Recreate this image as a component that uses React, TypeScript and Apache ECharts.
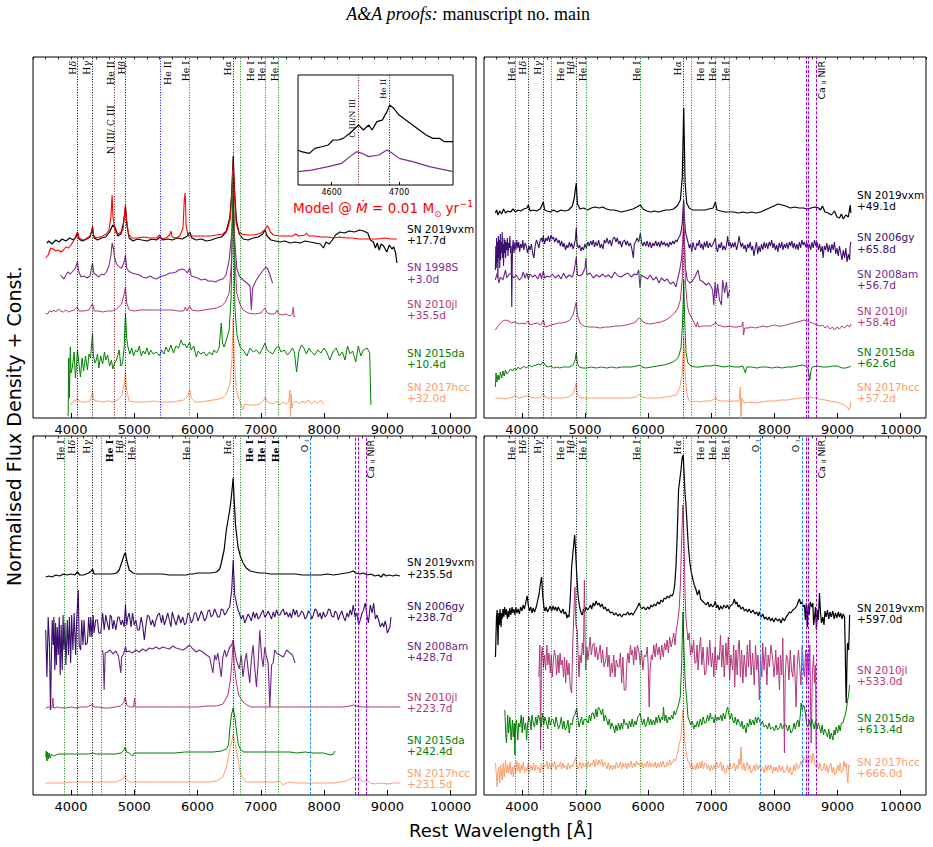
import React, { useEffect, useRef } from 'react';
import * as echarts from 'echarts';

// ---------- axes ----------
const WAVE_MIN = 3400;
const WAVE_MAX = 10400;
const MAJOR_TICKS = [4000, 5000, 6000, 7000, 8000, 9000, 10000];
const INSET_MIN = 4550;
const INSET_MAX = 4780;
const INSET_TICKS = [4600, 4700];

// ---------- colours ----------
const C_VXM = '#000000';
const C_MODEL = '#ff0000';
const C_98S = '#7d2e8e';
const C_GY = '#3b0f70';
const C_AM = '#71258a';
const C_JL = '#b5367a';
const C_DA = '#008000';
const C_HCC = '#fd9c6c';

// ---------- spectra: [rest wavelength (Å), normalised flux + offset] ----------
// Upper-left panel
const TL_2019VXM = [[3620,175],[3650,177],[3700,174],[3760,178],[3810,176],[3860,179],[3920,177],[3980,180],[4040,178],[4080,181],[4102,185],[4125,179],[4180,177],[4250,179],[4300,181],[4340,190],[4365,180],[4420,178],[4480,180],[4550,181],[4610,186],[4660,193],[4700,190],[4740,182],[4790,184],[4830,195],[4861,211],[4885,192],[4920,180],[4980,177],[5050,179],[5120,178],[5200,177],[5280,179],[5350,178],[5411,181],[5450,178],[5530,179],[5600,178],[5680,180],[5760,179],[5840,182],[5876,186],[5910,180],[5980,178],[6060,179],[6140,177],[6220,178],[6300,180],[6380,181],[6450,186],[6510,200],[6540,225],[6563,262],[6585,228],[6615,197],[6660,184],[6720,179],[6800,178],[6880,180],[6960,181],[7030,184],[7065,188],[7100,182],[7160,178],[7230,177],[7300,176],[7380,177],[7460,175],[7540,176],[7620,175],[7700,177],[7780,176],[7860,175],[7940,174],[7990,170],[8030,176],[8080,174],[8130,178],[8180,183],[8250,186],[8320,185],[8400,187],[8480,186],[8560,188],[8620,187],[8690,185],[8730,178],[8780,176],[8810,170],[8840,175],[8870,168],[8900,174],[8940,172],[8990,166],[9030,173],[9070,169],[9100,171],[9130,165],[9150,155]];
const TL_MODEL = [[3600,160],[3640,163],[3680,170],[3720,169],[3760,167],[3800,168],[3840,166],[3880,168],[3920,171],[3960,170],[4000,173],[4040,177],[4070,181],[4102,186],[4130,180],[4180,178],[4230,179],[4280,181],[4320,184],[4340,192],[4360,182],[4400,180],[4450,181],[4500,182],[4560,184],[4600,188],[4630,200],[4650,223],[4665,200],[4700,186],[4760,184],[4820,188],[4850,205],[4861,213],[4875,200],[4910,184],[4960,180],[5050,180],[5150,181],[5250,180],[5350,180],[5400,183],[5430,179],[5500,180],[5560,183],[5580,187],[5600,181],[5660,180],[5720,182],[5770,190],[5790,218],[5805,225],[5820,192],[5850,182],[5900,182],[6000,182],[6100,182],[6200,182],[6300,183],[6400,184],[6470,188],[6520,200],[6545,230],[6563,255],[6580,228],[6610,195],[6650,186],[6700,184],[6800,183],[6900,183],[7000,185],[7060,188],[7100,192],[7120,191],[7150,186],[7200,183],[7300,182],[7400,182],[7500,182],[7550,184],[7600,182],[7700,183],[7720,185],[7760,182],[7850,182],[7950,181],[8050,181],[8150,180],[8250,181],[8350,180],[8450,180],[8550,179],[8650,179],[8750,179],[8850,179],[8950,180],[9050,179],[9150,179]];
const TL_1998S = [[3835,143],[3860,141],[3890,139],[3920,143],[3950,146],[3990,144],[4030,147],[4070,150],[4102,156],[4125,146],[4160,141],[4200,142],[4260,140],[4300,142],[4340,155],[4360,145],[4400,143],[4440,141],[4480,144],[4520,143],[4560,146],[4600,152],[4630,162],[4650,175],[4670,170],[4690,160],[4720,154],[4760,151],[4800,150],[4840,156],[4861,163],[4880,150],[4910,147],[4960,145],[5020,144],[5080,143],[5130,141],[5190,140],[5250,142],[5300,140],[5350,139],[5400,141],[5450,142],[5500,143],[5560,145],[5610,145],[5660,146],[5700,148],[5760,149],[5800,148],[5840,145],[5876,150],[5900,142],[5950,141],[6000,140],[6060,138],[6120,139],[6170,137],[6230,137],[6280,136],[6340,138],[6400,139],[6450,143],[6500,158],[6540,185],[6563,215],[6590,175],[6620,150],[6660,142],[6720,138],[6780,135],[6830,132],[6850,108],[6870,130],[6920,137],[6980,143],[7040,148],[7080,151],[7110,149],[7150,142],[7185,135]];
const TL_2010JL = [[3600,105],[3630,104],[3660,107],[3700,106],[3730,108],[3760,106],[3800,109],[3840,107],[3880,106],[3920,108],[3960,106],[4000,107],[4050,108],[4102,111],[4130,107],[4200,107],[4280,108],[4340,114],[4370,107],[4430,107],[4500,106],[4580,107],[4650,107],[4720,109],[4800,114],[4840,124],[4861,131],[4880,115],[4920,108],[5000,107],[5100,108],[5200,108],[5300,108],[5400,108],[5500,108],[5600,108],[5700,107],[5780,107],[5810,111],[5830,107],[5876,112],[5910,108],[6000,107],[6100,108],[6200,109],[6300,110],[6380,112],[6440,116],[6500,125],[6540,160],[6563,248],[6590,160],[6620,125],[6670,114],[6720,108],[6800,105],[6900,104],[7000,105],[7065,110],[7100,105],[7160,104],[7220,104],[7259,108],[7280,104],[7350,103],[7400,104],[7460,102],[7500,104],[7513,111],[7525,101],[7540,102]];
const TL_2015DA = [[3955,2],[3965,60],[3975,20],[3990,71],[4000,45],[4020,50],[4050,66],[4070,40],[4090,55],[4102,68],[4130,52],[4150,41],[4175,60],[4200,47],[4230,62],[4260,48],[4285,64],[4310,60],[4340,85],[4355,62],[4380,55],[4400,58],[4420,64],[4440,50],[4470,62],[4500,54],[4530,66],[4550,58],[4580,63],[4610,52],[4640,58],[4660,49],[4690,55],[4720,58],[4760,68],[4790,52],[4815,55],[4840,70],[4861,105],[4880,80],[4900,71],[4930,64],[4960,70],[4990,62],[5020,68],[5050,66],[5080,72],[5110,62],[5140,67],[5170,64],[5200,70],[5230,63],[5260,68],[5300,64],[5350,66],[5400,62],[5430,68],[5470,64],[5500,71],[5540,66],[5580,73],[5620,65],[5660,72],[5700,70],[5740,78],[5770,73],[5800,74],[5830,70],[5876,76],[5900,68],[5940,72],[5980,61],[6010,67],[6050,64],[6100,66],[6140,62],[6190,66],[6230,63],[6260,68],[6300,65],[6340,70],[6375,95],[6395,75],[6420,71],[6455,78],[6500,88],[6530,120],[6563,240],[6590,110],[6620,85],[6640,78],[6680,70],[6720,68],[6780,62],[6830,70],[6880,66],[6930,68],[6980,64],[7030,70],[7065,75],[7100,68],[7140,66],[7190,64],[7240,70],[7280,72],[7320,66],[7370,68],[7420,63],[7460,66],[7500,70],[7530,66],[7565,46],[7600,66],[7640,73],[7680,70],[7720,64],[7760,70],[7800,66],[7850,63],[7900,68],[7950,65],[8000,70],[8040,66],[8090,58],[8140,66],[8190,70],[8240,62],[8290,66],[8330,58],[8370,72],[8410,64],[8450,67],[8500,56],[8540,72],[8580,62],[8620,68],[8680,70],[8720,65],[8740,13]];
const TL_2017HCC = [[3995,13],[4020,16],[4050,18],[4080,17],[4102,20],[4130,17],[4180,16],[4240,16],[4300,17],[4340,26],[4360,18],[4420,17],[4500,16],[4580,17],[4660,16],[4740,18],[4800,22],[4840,33],[4861,46],[4880,28],[4920,17],[5000,16],[5100,16],[5200,16],[5300,17],[5400,16],[5500,16],[5600,16],[5700,17],[5780,18],[5850,22],[5876,28],[5900,20],[5960,16],[6050,16],[6150,17],[6250,18],[6330,19],[6400,20],[6455,24],[6510,34],[6545,60],[6563,100],[6580,60],[6610,30],[6640,21],[6680,15],[6710,8],[6750,14],[6820,13],[6900,13],[6980,14],[7040,17],[7068,21],[7100,16],[7150,15],[7200,14],[7260,17],[7300,13],[7350,16],[7400,14],[7440,16],[7460,28],[7470,0],[7480,24],[7490,10],[7510,15],[7560,17],[7600,14],[7650,17],[7700,15],[7750,18],[7800,14],[7850,17],[7900,15],[7950,18],[7990,14]];

// Upper-left inset (He II / C III region)
const INSET_2019VXM = [[4550,31.8],[4555,30.3],[4567,28.8],[4575,33.3],[4585,34.8],[4595,36.4],[4602,40.9],[4610,40.9],[4617,42.4],[4627,47],[4632,50],[4640,54.5],[4647,50],[4655,54.5],[4660,50],[4667,57.6],[4675,59],[4682,66.7],[4686,72.7],[4692,69.7],[4700,63.6],[4710,59],[4720,54.5],[4730,50],[4740,45.5],[4750,42.4],[4760,42.4],[4767,39.4],[4780,39.4]];
const INSET_1998S = [[4550,12.1],[4570,13.6],[4595,16.7],[4615,19.7],[4627,25.8],[4637,30.3],[4645,28.8],[4655,25.8],[4670,27.3],[4682,31.8],[4690,28.8],[4700,24.2],[4720,21.2],[4745,16.7],[4780,12.1]];

// Upper-right panel
const TR_2019VXM = [[3580,205],[3600,208],[3620,203],[3650,207],[3680,204],[3710,209],[3740,205],[3780,207],[3820,206],[3860,209],[3900,206],[3940,208],[3980,207],[4030,209],[4080,210],[4102,213],[4130,207],[4180,208],[4230,207],[4290,209],[4340,216],[4360,208],[4400,207],[4450,206],[4500,208],[4560,206],[4620,208],[4680,207],[4740,208],[4800,212],[4830,220],[4861,235],[4880,214],[4920,209],[4980,210],[5040,208],[5100,210],[5160,211],[5220,210],[5280,211],[5340,209],[5400,208],[5460,208],[5520,207],[5580,206],[5640,207],[5700,208],[5760,209],[5820,211],[5876,213],[5920,209],[5980,207],[6040,206],[6100,207],[6160,206],[6220,207],[6280,208],[6340,208],[6400,209],[6460,212],[6510,218],[6540,240],[6563,310],[6585,235],[6610,215],[6650,210],[6700,208],[6760,208],[6830,208],[6900,208],[6960,209],[7030,210],[7065,216],[7090,208],[7150,207],[7220,206],[7290,206],[7360,206],[7430,205],[7500,206],[7570,205],[7640,206],[7710,205],[7780,206],[7850,208],[7920,210],[7990,212],[8060,214],[8120,213],[8180,212],[8250,210],[8320,211],[8390,210],[8460,210],[8520,209],[8580,210],[8640,211],[8700,210],[8730,208],[8760,212],[8800,206],[8850,205],[8900,203],[8950,207],[8990,201],[9030,200],[9060,204],[9090,199],[9130,203],[9170,201],[9200,213],[9210,205]];
const TR_2006GY = [[3580,148],[3587,172],[3594,150],[3600,180],[3607,155],[3614,176],[3620,140],[3628,182],[3635,160],[3642,178],[3650,150],[3658,184],[3665,158],[3672,176],[3680,165],[3688,186],[3695,160],[3702,174],[3710,152],[3718,180],[3726,165],[3734,178],[3742,160],[3750,176],[3760,168],[3770,180],[3780,162],[3790,175],[3800,170],[3810,182],[3820,165],[3830,172],[3840,111],[3846,150],[3852,170],[3862,178],[3875,165],[3890,176],[3905,168],[3920,178],[3935,170],[3950,176],[3965,166],[3980,174],[4000,170],[4015,178],[4030,168],[4050,175],[4070,172],[4090,165],[4110,172],[4130,168],[4150,174],[4170,165],[4190,160],[4210,172],[4230,178],[4250,175],[4270,170],[4290,178],[4310,180],[4325,176],[4340,182],[4360,174],[4380,180],[4400,177],[4420,182],[4440,176],[4460,183],[4480,179],[4500,181],[4520,176],[4545,180],[4570,175],[4590,178],[4610,172],[4630,177],[4650,171],[4670,175],[4690,168],[4710,173],[4730,170],[4750,176],[4770,171],[4790,175],[4810,169],[4830,173],[4850,180],[4861,190],[4875,174],[4895,170],[4915,173],[4935,167],[4955,171],[4975,168],[5000,174],[5020,170],[5045,176],[5065,172],[5090,177],[5110,173],[5130,178],[5150,171],[5170,176],[5195,172],[5215,178],[5240,170],[5260,174],[5285,169],[5305,178],[5325,175],[5350,180],[5370,174],[5395,178],[5420,172],[5440,179],[5465,181],[5490,176],[5510,180],[5535,174],[5555,177],[5580,171],[5600,176],[5625,178],[5650,173],[5670,177],[5695,172],[5720,175],[5745,168],[5765,160],[5780,174],[5800,176],[5825,180],[5850,176],[5876,185],[5895,176],[5915,172],[5940,176],[5960,172],[5985,177],[6005,171],[6030,176],[6050,170],[6075,175],[6095,172],[6120,177],[6140,172],[6165,176],[6185,171],[6210,177],[6230,173],[6255,176],[6275,172],[6300,175],[6320,171],[6345,176],[6365,173],[6390,177],[6410,174],[6435,178],[6455,176],[6480,180],[6500,182],[6520,186],[6540,195],[6555,212],[6563,218],[6575,200],[6590,186],[6610,181],[6630,176],[6650,170],[6670,174],[6690,166],[6710,176],[6730,170],[6750,168],[6770,175],[6790,172],[6810,178],[6830,170],[6850,174],[6870,168],[6890,176],[6910,171],[6930,177],[6950,170],[6975,175],[7000,171],[7020,173],[7040,176],[7065,180],[7080,170],[7100,166],[7120,174],[7140,170],[7160,176],[7180,168],[7200,172],[7225,168],[7245,175],[7259,182],[7275,172],[7295,176],[7315,170],[7335,175],[7355,171],[7375,176],[7400,168],[7420,174],[7440,182],[7455,176],[7475,171],[7495,175],[7515,169],[7535,173],[7555,166],[7575,174],[7595,170],[7615,176],[7635,168],[7655,172],[7675,162],[7695,170],[7715,176],[7735,164],[7755,172],[7775,166],[7795,174],[7815,168],[7835,176],[7855,170],[7875,175],[7895,169],[7915,176],[7935,172],[7955,178],[7975,170],[7995,175],[8015,168],[8035,173],[8055,166],[8075,175],[8095,170],[8115,176],[8135,168],[8155,174],[8175,170],[8195,175],[8215,169],[8235,176],[8255,172],[8275,177],[8295,170],[8315,175],[8335,169],[8355,174],[8375,168],[8395,176],[8415,170],[8435,178],[8455,173],[8475,176],[8495,171],[8515,175],[8535,169],[8555,174],[8575,168],[8595,176],[8615,170],[8635,178],[8655,172],[8675,176],[8695,168],[8715,174],[8735,166],[8755,172],[8770,160],[8790,172],[8810,168],[8830,175],[8850,166],[8870,173],[8890,165],[8910,174],[8930,168],[8950,176],[8970,164],[8990,170],[9010,162],[9030,172],[9050,165],[9070,158],[9090,168],[9110,160],[9130,170],[9150,156],[9170,164],[9190,158],[9200,172],[9210,176]];
const TR_2008AM = [[3580,138],[3610,145],[3635,135],[3660,141],[3700,138],[3740,148],[3760,140],[3790,143],[3830,145],[3870,140],[3910,143],[3960,138],[4000,141],[4020,146],[4050,140],[4080,145],[4100,139],[4130,144],[4170,141],[4210,143],[4250,139],[4290,145],[4310,139],[4340,147],[4360,140],[4400,142],[4440,141],[4480,144],[4530,140],[4580,143],[4620,139],[4660,145],[4700,140],[4750,143],[4800,141],[4830,148],[4861,161],[4880,143],[4920,142],[4960,144],[5000,150],[5015,160],[5030,143],[5080,145],[5130,140],[5180,143],[5230,141],[5280,144],[5320,141],[5370,143],[5420,140],[5470,146],[5520,142],[5570,141],[5620,143],[5680,145],[5730,141],[5780,144],[5820,143],[5850,148],[5870,130],[5890,143],[5940,141],[5990,139],[6030,143],[6080,138],[6130,141],[6170,135],[6210,140],[6260,137],[6300,139],[6350,134],[6400,136],[6440,131],[6470,140],[6500,148],[6530,160],[6563,190],[6590,150],[6620,138],[6660,135],[6700,137],[6740,141],[6790,148],[6820,138],[6870,136],[6920,133],[6960,135],[7000,131],[7020,128],[7040,113],[7060,136],[7080,120],[7100,134],[7130,118],[7160,113],[7180,138],[7210,125],[7240,136],[7260,120],[7290,128]];
const TR_2010JL = [[3580,88],[3620,92],[3660,95],[3700,97],[3740,98],[3790,97],[3840,95],[3880,96],[3920,95],[3960,94],[4000,95],[4050,94],[4102,97],[4130,93],[4180,94],[4240,95],[4300,93],[4340,98],[4370,91],[4420,92],[4470,93],[4530,94],[4580,95],[4640,95],[4700,96],[4760,98],[4810,103],[4840,110],[4861,116],[4880,103],[4920,95],[4980,92],[5060,91],[5150,91],[5240,90],[5320,91],[5400,91],[5480,92],[5560,92],[5640,93],[5720,94],[5800,96],[5850,100],[5876,100],[5900,97],[5950,95],[6030,94],[6120,95],[6200,96],[6280,98],[6350,101],[6420,105],[6470,110],[6510,118],[6540,140],[6563,215],[6590,135],[6620,112],[6650,105],[6700,99],[6760,91],[6780,96],[6800,91],[6860,92],[6920,92],[6990,92],[7050,94],[7065,96],[7100,93],[7160,92],[7220,91],[7280,92],[7350,91],[7420,91],[7480,92],[7500,96],[7510,83],[7530,90],[7580,90],[7640,91],[7700,90],[7760,91],[7820,92],[7880,91],[7940,92],[8000,93],[8060,92],[8120,92],[8180,93],[8240,94],[8300,95],[8360,96],[8420,97],[8470,98],[8510,97],[8560,96],[8600,95],[8640,94],[8680,93],[8720,92],[8760,93],[8800,90],[8840,92],[8880,89],[8920,91],[8950,88],[8990,91],[9030,89],[9070,92],[9110,90],[9150,93],[9190,91],[9210,94]];
const TR_2015DA = [[3580,31],[3590,45],[3605,36],[3620,43],[3640,38],[3660,46],[3680,40],[3700,47],[3720,42],[3740,48],[3760,44],[3790,46],[3820,49],[3850,47],[3880,50],[3910,48],[3940,51],[3970,49],[4000,50],[4030,52],[4060,50],[4090,51],[4120,53],[4150,51],[4180,52],[4220,53],[4260,54],[4300,53],[4330,56],[4350,55],[4380,52],[4420,51],[4460,52],[4500,50],[4550,51],[4600,50],[4650,51],[4700,51],[4760,51],[4810,53],[4840,57],[4861,65],[4880,54],[4910,51],[4960,50],[5020,50],[5100,51],[5180,50],[5260,51],[5340,50],[5420,51],[5500,50],[5580,51],[5660,51],[5740,51],[5810,52],[5876,53],[5900,51],[5960,50],[6050,51],[6150,52],[6250,53],[6350,55],[6420,57],[6480,61],[6520,70],[6545,95],[6563,138],[6580,95],[6600,65],[6630,55],[6680,52],[6750,51],[6820,51],[6900,52],[6980,52],[7060,53],[7120,52],[7200,51],[7280,52],[7360,51],[7440,51],[7500,52],[7540,45],[7560,51],[7640,51],[7720,50],[7800,51],[7880,51],[7960,50],[8040,51],[8120,50],[8200,51],[8280,51],[8360,52],[8440,53],[8490,52],[8530,50],[8560,38],[8580,48],[8600,51],[8680,52],[8760,51],[8840,51],[8920,52],[9000,52],[9070,50],[9130,50],[9180,51],[9210,52]];
const TR_2017HCC = [[3580,20],[3650,20],[3730,19],[3800,20],[3860,21],[3889,23],[3910,21],[3960,20],[4010,21],[4060,22],[4102,22],[4140,21],[4200,20],[4280,20],[4340,25],[4360,21],[4420,20],[4500,20],[4580,20],[4660,20],[4740,21],[4810,24],[4840,30],[4861,35],[4880,24],[4920,20],[5000,20],[5100,20],[5200,20],[5300,20],[5400,20],[5500,20],[5600,20],[5700,20],[5800,21],[5850,23],[5876,24],[5900,21],[5980,20],[6080,20],[6180,20],[6280,21],[6380,22],[6450,23],[6500,30],[6540,45],[6563,81],[6585,45],[6610,25],[6640,18],[6700,16],[6760,17],[6820,16],[6900,17],[6980,17],[7050,19],[7065,21],[7090,18],[7150,17],[7220,17],[7300,17],[7380,17],[7440,17],[7460,31],[7470,0],[7480,20],[7520,15],[7600,16],[7700,15],[7800,16],[7900,17],[8000,17],[8100,18],[8200,18],[8300,19],[8400,20],[8480,20],[8560,21],[8640,20],[8720,19],[8800,18],[8880,17],[8960,16],[9040,15],[9100,13],[9150,11],[9180,8],[9200,11],[9210,16]];

// Lower-left panel
const BL_2019VXM = [[3600,218],[3650,219],[3700,218],[3760,220],[3820,219],[3880,221],[3940,220],[4000,221],[4060,220],[4102,223],[4140,220],[4200,220],[4280,222],[4320,224],[4340,226],[4365,221],[4420,221],[4500,221],[4580,221],[4660,221],[4720,222],[4762,225],[4815,235],[4845,241],[4862,242],[4880,235],[4920,225],[4980,222],[5050,221],[5150,221],[5250,221],[5350,221],[5450,221],[5550,220],[5650,220],[5750,220],[5820,220],[5876,221],[5930,221],[6000,222],[6100,222],[6200,222],[6300,223],[6350,226],[6375,232],[6420,245],[6455,265],[6490,278],[6520,290],[6545,305],[6563,317],[6575,300],[6600,270],[6640,248],[6680,238],[6720,232],[6770,227],[6830,224],[6900,223],[6980,222],[7060,222],[7150,221],[7250,221],[7350,221],[7450,221],[7550,221],[7650,220],[7750,220],[7850,220],[7950,220],[8050,221],[8150,220],[8250,221],[8350,222],[8420,223],[8460,224],[8500,222],[8560,221],[8620,222],[8680,220],[8740,221],[8800,219],[8860,220],[8900,218],[8940,221],[8980,219],[9030,220],[9090,219],[9130,220],[9200,219]];
const BL_2006GY = [[3600,165],[3620,118],[3640,178],[3660,150],[3677,85],[3690,135],[3704,175],[3720,150],[3730,178],[3745,125],[3757,172],[3770,130],[3783,168],[3800,140],[3815,178],[3830,120],[3845,170],[3862,125],[3875,180],[3890,145],[3905,172],[3920,130],[3942,175],[3960,140],[3975,178],[3995,132],[4010,180],[4030,145],[4050,182],[4074,140],[4090,175],[4116,205],[4130,150],[4153,145],[4170,175],[4190,150],[4206,175],[4230,150],[4259,152],[4280,178],[4300,158],[4312,178],[4330,158],[4350,180],[4365,162],[4390,175],[4418,175],[4440,162],[4471,162],[4500,182],[4525,165],[4550,180],[4580,170],[4603,165],[4620,180],[4640,178],[4660,166],[4680,175],[4709,165],[4740,178],[4762,178],[4790,170],[4815,175],[4840,168],[4861,190],[4880,170],[4900,178],[4920,182],[4950,168],[4973,182],[5000,170],[5026,175],[5050,165],[5079,165],[5110,178],[5132,170],[5159,155],[5185,170],[5210,180],[5238,178],[5265,170],[5290,175],[5320,168],[5344,175],[5370,180],[5397,182],[5430,172],[5449,180],[5475,170],[5500,175],[5530,182],[5555,175],[5580,168],[5600,183],[5630,176],[5661,170],[5700,180],[5735,172],[5767,178],[5795,170],[5820,172],[5850,182],[5873,180],[5900,172],[5926,175],[5950,182],[5978,182],[6005,174],[6030,178],[6060,184],[6084,180],[6110,174],[6140,177],[6165,184],[6190,185],[6215,178],[6243,180],[6270,186],[6296,182],[6320,178],[6349,178],[6375,186],[6402,185],[6430,180],[6455,182],[6480,186],[6508,188],[6540,205],[6563,235],[6587,200],[6614,192],[6640,185],[6660,182],[6690,176],[6719,180],[6745,172],[6770,176],[6800,181],[6825,178],[6850,174],[6880,183],[6905,177],[6931,182],[6960,176],[6984,178],[7010,182],[7036,185],[7060,178],[7090,180],[7115,184],[7142,180],[7170,176],[7195,183],[7220,178],[7248,185],[7275,180],[7301,180],[7330,184],[7354,186],[7380,180],[7407,183],[7435,178],[7460,182],[7485,177],[7513,186],[7540,180],[7565,185],[7590,178],[7618,180],[7645,184],[7671,182],[7700,176],[7724,178],[7750,184],[7780,182],[7805,176],[7830,180],[7855,186],[7880,185],[7910,178],[7936,182],[7960,176],[7989,183],[8015,178],[8040,180],[8070,186],[8094,185],[8120,179],[8150,178],[8175,184],[8200,182],[8225,175],[8250,180],[8280,184],[8306,178],[8335,174],[8360,182],[8385,178],[8412,185],[8435,180],[8460,190],[8490,178],[8518,182],[8545,170],[8570,175],[8600,182],[8623,185],[8650,192],[8676,180],[8700,172],[8729,190],[8760,182],[8782,192],[8810,176],[8835,180],[8862,175],[8888,168],[8920,172],[8941,168],[8965,174],[8980,170],[9000,162],[9020,165],[9040,168],[9057,178]];
const BL_2008AM = [[4497,145],[4510,140],[4524,105],[4540,142],[4580,143],[4620,145],[4660,141],[4709,144],[4750,139],[4788,122],[4800,138],[4830,141],[4861,148],[4880,143],[4920,144],[4970,142],[5026,145],[5079,143],[5132,146],[5185,144],[5238,147],[5290,146],[5344,148],[5397,146],[5449,148],[5500,147],[5555,146],[5608,149],[5661,147],[5714,146],[5767,145],[5820,147],[5873,150],[5926,146],[5978,143],[6030,145],[6084,143],[6140,140],[6190,138],[6243,122],[6270,140],[6296,135],[6320,142],[6375,118],[6400,138],[6430,145],[6455,138],[6508,148],[6540,150],[6563,155],[6587,145],[6614,135],[6660,126],[6690,140],[6719,118],[6750,135],[6772,142],[6800,125],[6825,112],[6850,135],[6878,150],[6900,130],[6931,108],[6960,135],[6984,165],[7010,140],[7036,128],[7063,148],[7090,138],[7116,132],[7142,88],[7170,130],[7195,132],[7220,145],[7248,142],[7300,140],[7354,138],[7407,145],[7460,142],[7500,140],[7540,132]];
const BL_2010JL = [[3600,87],[3650,88],[3700,87],[3714,97],[3725,87],[3780,88],[3850,87],[3920,87],[4000,88],[4080,87],[4150,88],[4250,88],[4320,90],[4339,91],[4360,88],[4430,88],[4520,87],[4600,87],[4700,88],[4780,89],[4830,92],[4857,98],[4880,90],[4930,88],[4990,88],[5005,97],[5015,88],[5079,88],[5200,88],[5344,88],[5500,88],[5650,88],[5800,88],[5900,88],[6000,88],[6150,89],[6300,89],[6400,91],[6480,100],[6520,115],[6545,135],[6563,155],[6580,130],[6614,112],[6650,100],[6719,93],[6780,90],[6850,88],[6950,88],[7100,88],[7250,88],[7400,88],[7550,88],[7700,88],[7850,88],[8000,88],[8150,88],[8300,88],[8412,89],[8470,90],[8520,89],[8600,88],[8750,88],[8900,88],[9050,88],[9205,88]];
const BL_2015DA = [[3600,38],[3610,44],[3620,34],[3630,43],[3640,36],[3655,42],[3670,37],[3690,41],[3720,39],[3760,40],[3800,41],[3860,41],[3920,41],[3980,41],[4050,41],[4120,41],[4200,41],[4280,41],[4339,42],[4400,41],[4500,41],[4600,41],[4700,41],[4790,42],[4830,44],[4857,48],[4880,43],[4920,42],[4973,39],[5000,42],[5079,42],[5200,42],[5344,42],[5500,42],[5650,42],[5800,43],[5876,43],[5950,43],[6100,43],[6250,43],[6380,44],[6455,46],[6490,50],[6508,65],[6535,80],[6563,87],[6590,78],[6614,65],[6640,52],[6666,47],[6720,43],[6800,43],[6900,43],[7036,43],[7150,43],[7300,43],[7460,43],[7565,42],[7700,43],[7830,42],[7990,42],[8094,40],[8150,41],[8170,44]];
const BL_2017HCC = [[3600,12],[3700,12],[3800,12],[3900,12],[4000,13],[4100,13],[4200,13],[4300,13],[4400,13],[4500,13],[4600,13],[4700,13],[4800,15],[4830,17],[4857,20],[4880,15],[4930,13],[5000,13],[5100,13],[5200,13],[5300,13],[5400,13],[5500,13],[5600,13],[5700,13],[5800,13],[5900,13],[6000,13],[6100,13],[6200,13],[6300,14],[6350,16],[6400,18],[6455,28],[6508,45],[6545,55],[6561,60],[6580,55],[6614,45],[6640,35],[6666,25],[6700,18],[6772,13],[6850,13],[6950,13],[7036,13],[7150,13],[7250,13],[7300,14],[7354,10],[7400,12],[7460,13],[7550,12],[7650,12],[7750,12],[7850,12],[7950,12],[8050,12],[8150,12],[8250,13],[8350,14],[8412,16],[8460,18],[8491,17],[8540,18],[8580,15],[8623,13],[8676,15],[8729,12],[8800,11],[8900,12],[9000,11],[9100,12],[9205,12]];

// Lower-right panel
const BR_2019VXM = [[3582,138],[3590,160],[3598,178],[3609,185],[3616,165],[3622,150],[3630,176],[3635,182],[3645,170],[3655,186],[3661,180],[3670,168],[3680,182],[3688,176],[3700,186],[3715,178],[3725,188],[3741,180],[3755,186],[3770,176],[3785,184],[3794,178],[3810,187],[3825,180],[3845,188],[3860,182],[3873,186],[3890,180],[3905,188],[3920,182],[3940,186],[3960,181],[3980,188],[4000,184],[4020,190],[4040,186],[4060,192],[4075,197],[4085,199],[4100,190],[4120,184],[4140,188],[4160,182],[4180,187],[4200,183],[4217,186],[4235,190],[4255,196],[4270,200],[4290,210],[4312,218],[4330,200],[4349,188],[4365,184],[4385,188],[4405,183],[4428,186],[4450,189],[4470,184],[4495,189],[4515,185],[4534,188],[4555,184],[4575,188],[4600,185],[4625,182],[4650,186],[4670,181],[4693,183],[4715,177],[4730,180],[4746,178],[4765,195],[4788,228],[4805,240],[4820,250],[4836,260],[4850,245],[4865,225],[4878,210],[4892,198],[4905,192],[4920,186],[4940,182],[4957,180],[4975,186],[4995,183],[5015,188],[5040,185],[5063,187],[5085,190],[5105,186],[5130,192],[5150,189],[5175,194],[5200,190],[5222,192],[5245,188],[5270,191],[5295,186],[5320,188],[5345,184],[5370,186],[5400,182],[5434,183],[5460,180],[5490,182],[5520,179],[5550,181],[5580,178],[5610,181],[5645,180],[5675,183],[5700,180],[5730,182],[5760,180],[5785,183],[5804,185],[5830,188],[5857,192],[5880,188],[5900,186],[5930,188],[5963,185],[5990,188],[6020,186],[6045,190],[6068,188],[6095,191],[6120,189],[6150,193],[6180,191],[6205,195],[6230,193],[6255,197],[6280,196],[6305,199],[6330,197],[6355,200],[6380,199],[6400,202],[6420,210],[6440,228],[6460,260],[6481,305],[6500,315],[6520,325],[6540,338],[6555,340],[6570,320],[6585,300],[6597,292],[6615,272],[6635,250],[6661,232],[6685,222],[6710,215],[6730,210],[6755,206],[6780,200],[6809,205],[6830,196],[6860,194],[6890,192],[6915,190],[6945,193],[6970,188],[6995,191],[7021,188],[7045,190],[7063,194],[7085,187],[7105,190],[7126,185],[7150,189],[7175,186],[7200,190],[7232,187],[7255,190],[7280,186],[7300,189],[7325,190],[7345,192],[7364,196],[7385,191],[7405,193],[7425,188],[7444,190],[7470,186],[7500,188],[7525,184],[7550,186],[7575,183],[7600,186],[7630,182],[7660,185],[7690,181],[7720,183],[7745,179],[7761,183],[7790,178],[7815,181],[7840,176],[7867,178],[7890,175],[7915,178],[7940,174],[7965,177],[7990,173],[8020,177],[8050,174],[8079,176],[8105,172],[8130,177],[8160,174],[8184,178],[8210,180],[8235,183],[8260,182],[8290,185],[8317,186],[8340,188],[8360,190],[8380,194],[8396,196],[8415,191],[8435,193],[8455,188],[8475,190],[8490,175],[8505,192],[8520,168],[8535,190],[8550,180],[8565,193],[8590,188],[8608,192],[8620,170],[8635,178],[8650,188],[8665,165],[8680,185],[8695,175],[8713,202],[8730,182],[8745,172],[8766,178],[8785,170],[8800,184],[8819,178],[8840,185],[8860,176],[8880,183],[8900,178],[8925,184],[8945,176],[8965,182],[8990,177],[9010,183],[9031,178],[9050,182],[9070,176],[9090,181],[9110,178],[9120,150],[9130,110],[9137,92],[9145,120],[9155,150],[9163,152],[9175,145],[9185,165],[9190,180]];
const BR_2010JL = [[4270,118],[4285,150],[4296,45],[4310,140],[4323,148],[4340,128],[4360,140],[4375,125],[4395,150],[4410,130],[4428,142],[4450,122],[4465,140],[4481,118],[4500,135],[4515,145],[4534,138],[4550,120],[4570,140],[4587,122],[4605,142],[4620,130],[4640,135],[4660,118],[4675,138],[4693,112],[4710,135],[4730,120],[4746,132],[4765,108],[4788,102],[4805,150],[4825,185],[4840,208],[4855,170],[4878,165],[4890,140],[4905,118],[4920,140],[4940,132],[4957,152],[4975,140],[4990,215],[5000,160],[5010,125],[5030,148],[5045,135],[5063,145],[5080,158],[5100,140],[5120,150],[5143,152],[5160,138],[5180,148],[5200,135],[5222,142],[5240,150],[5260,132],[5280,145],[5300,128],[5328,135],[5345,148],[5360,128],[5380,140],[5400,118],[5420,132],[5434,122],[5455,140],[5475,118],[5495,135],[5520,128],[5540,128],[5560,142],[5580,112],[5600,138],[5620,105],[5645,105],[5665,135],[5680,142],[5698,132],[5720,150],[5735,140],[5751,145],[5770,130],[5790,148],[5810,135],[5830,150],[5857,142],[5875,130],[5895,145],[5915,125],[5940,140],[5963,138],[5985,148],[6000,130],[6016,88],[6030,125],[6050,140],[6068,135],[6090,150],[6110,138],[6130,152],[6150,140],[6174,148],[6195,135],[6215,150],[6240,138],[6260,152],[6280,145],[6300,155],[6320,142],[6340,158],[6365,148],[6386,155],[6405,162],[6425,150],[6445,165],[6465,172],[6490,185],[6510,210],[6530,255],[6550,290],[6570,250],[6585,200],[6597,178],[6615,165],[6630,155],[6650,162],[6670,140],[6690,150],[6703,142],[6720,155],[6740,132],[6756,132],[6775,150],[6790,125],[6809,145],[6830,158],[6850,130],[6870,148],[6895,120],[6915,122],[6935,148],[6955,130],[6975,155],[7000,128],[7021,142],[7040,118],[7060,148],[7080,125],[7100,140],[7126,135],[7145,160],[7165,128],[7185,150],[7205,118],[7232,152],[7250,130],[7270,158],[7290,115],[7310,140],[7338,125],[7355,150],[7370,108],[7390,145],[7410,120],[7430,150],[7444,155],[7460,118],[7480,145],[7500,112],[7520,140],[7550,118],[7570,150],[7590,128],[7610,155],[7630,120],[7655,142],[7680,110],[7700,150],[7720,125],[7740,140],[7761,95],[7780,138],[7800,118],[7814,152],[7835,125],[7860,148],[7880,110],[7900,140],[7920,128],[7945,150],[7973,135],[7995,118],[8020,145],[8040,120],[8060,138],[8079,105],[8095,140],[8115,120],[8132,157],[8145,110],[8158,42],[8170,120],[8190,140],[8211,135],[8230,115],[8250,145],[8270,125],[8290,118],[8310,140],[8330,112],[8343,88],[8360,130],[8380,145],[8396,132],[8420,110],[8440,150],[8460,125],[8475,118],[8495,145],[8510,110],[8528,142],[8545,120],[8560,150],[8581,52],[8600,120],[8620,140],[8634,112],[8650,130],[8660,45]];
const BR_2015DA = [[3730,85],[3745,60],[3757,52],[3775,80],[3790,62],[3810,78],[3830,55],[3850,75],[3863,58],[3880,72],[3889,40],[3900,70],[3915,75],[3935,55],[3950,72],[3968,68],[3990,80],[4005,62],[4021,78],[4040,65],[4060,72],[4074,55],[4090,70],[4110,78],[4127,75],[4145,65],[4160,80],[4180,72],[4200,68],[4220,78],[4240,70],[4260,80],[4286,75],[4305,68],[4325,82],[4345,70],[4365,78],[4391,72],[4410,66],[4430,78],[4450,70],[4475,76],[4497,75],[4520,68],[4540,78],[4560,72],[4580,66],[4603,70],[4625,78],[4645,66],[4665,74],[4685,65],[4709,68],[4730,75],[4750,62],[4770,72],[4795,70],[4815,78],[4840,80],[4868,87],[4890,75],[4905,68],[4920,72],[4945,78],[4965,70],[4990,76],[5026,75],[5050,72],[5070,80],[5090,74],[5110,82],[5132,82],[5150,76],[5170,86],[5190,78],[5210,88],[5238,85],[5260,80],[5280,86],[5300,74],[5320,80],[5344,75],[5365,70],[5385,76],[5405,66],[5425,72],[5449,68],[5470,62],[5490,70],[5510,64],[5530,72],[5555,65],[5575,72],[5595,66],[5615,76],[5640,70],[5661,72],[5685,66],[5705,74],[5725,68],[5745,76],[5767,68],[5790,74],[5810,70],[5835,78],[5860,80],[5873,82],[5890,76],[5910,70],[5935,76],[5955,68],[5978,72],[6000,78],[6020,70],[6040,76],[6060,70],[6084,75],[6105,70],[6125,78],[6145,72],[6165,80],[6190,72],[6210,78],[6230,75],[6243,88],[6260,74],[6280,80],[6300,72],[6325,78],[6349,75],[6370,80],[6390,76],[6410,84],[6430,80],[6455,85],[6480,90],[6508,98],[6530,130],[6550,183],[6570,140],[6585,115],[6597,105],[6615,92],[6630,78],[6650,75],[6675,70],[6700,74],[6720,66],[6740,70],[6756,68],[6780,74],[6800,68],[6825,76],[6850,70],[6870,78],[6895,72],[6915,72],[6940,80],[6960,74],[6985,82],[7000,76],[7021,78],[7045,72],[7065,80],[7085,74],[7105,78],[7126,75],[7150,80],[7170,74],[7190,82],[7215,76],[7240,84],[7259,88],[7280,80],[7300,76],[7320,82],[7338,75],[7360,72],[7380,78],[7400,70],[7420,76],[7444,72],[7465,68],[7485,74],[7505,66],[7525,70],[7550,62],[7570,72],[7590,68],[7610,76],[7630,70],[7655,75],[7680,70],[7700,78],[7720,72],[7740,78],[7761,75],[7785,70],[7810,74],[7835,68],[7867,70],[7890,66],[7915,72],[7940,66],[7973,68],[8000,64],[8025,70],[8050,65],[8079,67],[8100,72],[8125,66],[8150,70],[8184,70],[8210,64],[8235,70],[8260,62],[8290,65],[8310,72],[8330,66],[8350,72],[8370,75],[8390,68],[8410,80],[8422,92],[8440,85],[8460,90],[8475,88],[8495,80],[8510,70],[8528,68],[8550,75],[8570,68],[8590,76],[8608,72],[8630,66],[8650,74],[8675,66],[8695,72],[8713,68],[8735,62],[8755,70],[8775,60],[8795,66],[8819,62],[8840,58],[8860,66],[8880,56],[8900,62],[8925,55],[8945,65],[8960,60],[8978,68],[9000,62],[9020,70],[9040,64],[9060,72],[9084,72],[9100,76],[9120,80],[9137,85],[9160,95],[9175,100],[9190,110]];
const BR_2017HCC = [[3582,32],[3595,20],[3609,8],[3622,25],[3635,28],[3650,12],[3665,30],[3688,15],[3705,32],[3720,18],[3741,35],[3760,22],[3775,30],[3794,22],[3815,33],[3830,20],[3847,28],[3865,18],[3880,30],[3900,22],[3920,34],[3935,24],[3952,32],[3970,22],[3990,30],[4005,25],[4025,33],[4040,22],[4058,28],[4080,24],[4100,32],[4120,22],[4140,30],[4164,25],[4185,32],[4205,24],[4225,30],[4250,26],[4270,28],[4290,22],[4310,32],[4330,25],[4350,30],[4375,28],[4395,34],[4415,26],[4440,32],[4460,25],[4481,32],[4500,28],[4520,34],[4540,25],[4560,30],[4587,28],[4610,33],[4630,26],[4650,32],[4670,27],[4693,30],[4715,25],[4735,32],[4760,26],[4780,30],[4799,28],[4820,32],[4840,35],[4852,38],[4870,30],[4890,26],[4905,28],[4925,33],[4945,26],[4965,32],[4990,28],[5010,32],[5030,27],[5050,34],[5075,28],[5095,32],[5116,30],[5140,35],[5160,28],[5180,36],[5200,30],[5222,35],[5245,30],[5265,36],[5285,28],[5305,33],[5328,30],[5350,26],[5370,32],[5390,25],[5410,30],[5434,25],[5455,30],[5475,26],[5495,33],[5520,27],[5540,28],[5560,33],[5580,26],[5600,32],[5620,28],[5645,32],[5665,26],[5685,32],[5705,28],[5730,34],[5751,27],[5775,32],[5795,28],[5815,34],[5835,30],[5857,32],[5880,28],[5900,33],[5920,27],[5940,32],[5963,28],[5985,34],[6005,28],[6025,33],[6045,28],[6068,32],[6090,28],[6110,33],[6130,27],[6150,32],[6174,28],[6195,33],[6215,28],[6235,34],[6260,28],[6280,28],[6300,33],[6320,29],[6340,35],[6360,30],[6386,33],[6410,36],[6430,34],[6450,38],[6465,42],[6490,50],[6518,58],[6535,72],[6550,85],[6565,70],[6580,55],[6597,45],[6615,38],[6630,33],[6650,33],[6670,27],[6690,32],[6710,25],[6735,30],[6756,25],[6775,32],[6795,26],[6815,33],[6835,27],[6855,34],[6875,26],[6895,32],[6915,32],[6935,26],[6955,30],[6980,24],[7000,30],[7021,25],[7045,30],[7065,26],[7085,33],[7105,27],[7126,28],[7150,33],[7170,24],[7190,30],[7210,22],[7232,22],[7255,30],[7275,25],[7295,32],[7315,26],[7338,28],[7360,32],[7380,24],[7400,30],[7420,26],[7440,36],[7455,30],[7470,48],[7485,30],[7497,25],[7515,32],[7535,24],[7550,28],[7570,33],[7590,25],[7610,30],[7630,22],[7655,25],[7675,30],[7695,24],[7715,31],[7735,25],[7760,30],[7785,24],[7814,28],[7835,22],[7860,30],[7880,24],[7900,30],[7920,25],[7945,30],[7970,22],[7990,28],[8010,24],[8026,28],[8050,23],[8075,30],[8100,24],[8125,29],[8150,22],[8184,25],[8205,30],[8225,22],[8250,28],[8270,20],[8290,22],[8310,30],[8330,24],[8350,32],[8375,26],[8396,28],[8420,34],[8440,30],[8460,36],[8475,38],[8495,32],[8515,38],[8535,30],[8555,35],[8575,40],[8590,32],[8608,42],[8630,35],[8645,30],[8660,28],[8680,33],[8700,25],[8720,32],[8745,24],[8766,25],[8790,32],[8810,24],[8830,30],[8850,22],[8872,28],[8895,32],[8915,22],[8935,28],[8955,20],[8978,22],[9000,30],[9020,24],[9040,32],[9060,22],[9084,25],[9100,34],[9120,28],[9137,32],[9150,20],[9163,12],[9175,30],[9190,28]];

// ---------- line identifications ----------
type LineMark = { w: number; t: string; c: string; dx: number; dash?: boolean; bold?: boolean; noLabel?: boolean };

const TL_LINES: LineMark[] = [
  { w: 4102, t: 'Hδ', c: 'black', dx: -5.3 },
  { w: 4340, t: 'Hγ', c: 'black', dx: -5.6 },
  { w: 4686, t: 'He II', c: 'darkred', dx: -4.3 },
  { w: 4861, t: 'Hβ', c: 'black', dx: -4.3 },
  { w: 5411, t: 'He II', c: 'blue', dx: 6.8 },
  { w: 5876, t: 'He I', c: 'green', dx: -3.7 },
  { w: 6563, t: 'Hα', c: 'black', dx: -6 },
  { w: 6678, t: 'He I', c: 'green', dx: 10 },
  { w: 7065, t: 'He I', c: 'green', dx: -3.2 },
  { w: 7281, t: 'He I', c: 'green', dx: -3.7 },
];
const TL_EXTRA_LABEL = { w: 4686, t: 'N III/ C III', dx: -4.3, dy: 48 };

const BASE_LINES: LineMark[] = [
  { w: 3889, t: 'He I', c: 'green', dx: -3.5 },
  { w: 4102, t: 'Hδ', c: 'black', dx: -5.5 },
  { w: 4340, t: 'Hγ', c: 'black', dx: -5.8 },
  { w: 4471, t: 'He I', c: 'green', dx: 9 },
  { w: 4861, t: 'Hβ', c: 'black', dx: -5.5 },
  { w: 5015, t: 'He I', c: 'green', dx: -3.5 },
  { w: 5876, t: 'He I', c: 'green', dx: -3.5 },
  { w: 6563, t: 'Hα', c: 'black', dx: -6 },
  { w: 6678, t: 'He I', c: 'green', dx: 9.5 },
  { w: 7065, t: 'He I', c: 'green', dx: -3.4 },
  { w: 7281, t: 'He I', c: 'green', dx: -3.5 },
];
const CA_LINES: LineMark[] = [
  { w: 8498, t: '', c: 'darkviolet', dx: 0, dash: true, noLabel: true },
  { w: 8542, t: '', c: 'darkviolet', dx: 0, dash: true, noLabel: true },
  { w: 8662, t: 'CaNIR', c: 'darkviolet', dx: 4.8, dash: true },
];
const OI_7774: LineMark = { w: 7774, t: 'OI', c: 'dodgerblue', dx: -5, dash: true };
const OI_8446: LineMark = { w: 8446, t: 'OI', c: 'dodgerblue', dx: -7, dash: true };

const BOLD_HE = [4471, 6678, 7065, 7281];

const TR_LINES: LineMark[] = [...BASE_LINES, ...CA_LINES];
const BL_LINES: LineMark[] = [
  ...BASE_LINES.map((l) => (BOLD_HE.includes(l.w) ? { ...l, bold: true } : l)),
  OI_7774,
  ...CA_LINES,
];
const BR_LINES: LineMark[] = [...BASE_LINES, OI_7774, OI_8446, ...CA_LINES];

const INSET_LINES: LineMark[] = [
  { w: 4640, t: 'C III/N III', c: 'darkred', dx: -6 },
  { w: 4686, t: 'He II', c: 'blue', dx: -6.5 },
];
const INSET_LABEL_TOP = [99, 79];

// ---------- layout ----------
type Spec = { data: number[][]; color: string; width: number };
type NameTag = { name: string; epoch: string; color: string; y1: number; y2: number };

const PANELS: { grid: any; ymax: number; tagX: number; lines: LineMark[]; spectra: Spec[]; tags: NameTag[] }[] = [
  {
    grid: { left: 33, top: 57, width: 443, height: 361 },
    ymax: 361,
    tagX: 407,
    lines: TL_LINES,
    spectra: [
      { data: TL_2019VXM, color: C_VXM, width: 1.2 },
      { data: TL_MODEL, color: C_MODEL, width: 1.1 },
      { data: TL_1998S, color: C_98S, width: 1.1 },
      { data: TL_2010JL, color: C_JL, width: 1 },
      { data: TL_2015DA, color: C_DA, width: 1 },
      { data: TL_2017HCC, color: C_HCC, width: 1 },
    ],
    tags: [
      { name: 'SN 2019vxm', epoch: '+17.7d', color: C_VXM, y1: 229, y2: 240 },
      { name: 'SN 1998S', epoch: '+3.0d', color: C_98S, y1: 267, y2: 279 },
      { name: 'SN 2010jl', epoch: '+35.5d', color: C_JL, y1: 304, y2: 315 },
      { name: 'SN 2015da', epoch: '+10.4d', color: C_DA, y1: 353, y2: 364 },
      { name: 'SN 2017hcc', epoch: '+32.0d', color: C_HCC, y1: 387, y2: 398 },
    ],
  },
  {
    grid: { left: 484, top: 57, width: 442, height: 361 },
    ymax: 361,
    tagX: 857,
    lines: TR_LINES,
    spectra: [
      { data: TR_2019VXM, color: C_VXM, width: 1.2 },
      { data: TR_2006GY, color: C_GY, width: 1.1 },
      { data: TR_2008AM, color: C_AM, width: 1.1 },
      { data: TR_2010JL, color: C_JL, width: 1 },
      { data: TR_2015DA, color: C_DA, width: 1 },
      { data: TR_2017HCC, color: C_HCC, width: 1 },
    ],
    tags: [
      { name: 'SN 2019vxm', epoch: '+49.1d', color: C_VXM, y1: 195, y2: 206 },
      { name: 'SN 2006gy', epoch: '+65.8d', color: C_GY, y1: 237, y2: 249 },
      { name: 'SN 2008am', epoch: '+56.7d', color: C_AM, y1: 274, y2: 285 },
      { name: 'SN 2010jl', epoch: '+58.4d', color: C_JL, y1: 311, y2: 322 },
      { name: 'SN 2015da', epoch: '+62.6d', color: C_DA, y1: 352, y2: 363 },
      { name: 'SN 2017hcc', epoch: '+57.2d', color: C_HCC, y1: 387, y2: 398 },
    ],
  },
  {
    grid: { left: 33, top: 436, width: 443, height: 359 },
    ymax: 359,
    tagX: 407,
    lines: BL_LINES,
    spectra: [
      { data: BL_2019VXM, color: C_VXM, width: 1.2 },
      { data: BL_2006GY, color: C_GY, width: 1.1 },
      { data: BL_2008AM, color: C_AM, width: 1.1 },
      { data: BL_2010JL, color: C_JL, width: 1 },
      { data: BL_2015DA, color: C_DA, width: 1 },
      { data: BL_2017HCC, color: C_HCC, width: 1 },
    ],
    tags: [
      { name: 'SN 2019vxm', epoch: '+235.5d', color: C_VXM, y1: 562, y2: 574 },
      { name: 'SN 2006gy', epoch: '+238.7d', color: C_GY, y1: 606, y2: 617 },
      { name: 'SN 2008am', epoch: '+428.7d', color: C_AM, y1: 646, y2: 657 },
      { name: 'SN 2010jl', epoch: '+223.7d', color: C_JL, y1: 697, y2: 708 },
      { name: 'SN 2015da', epoch: '+242.4d', color: C_DA, y1: 740, y2: 751 },
      { name: 'SN 2017hcc', epoch: '+231.5d', color: C_HCC, y1: 773, y2: 784 },
    ],
  },
  {
    grid: { left: 484, top: 436, width: 442, height: 359 },
    ymax: 359,
    tagX: 857,
    lines: BR_LINES,
    spectra: [
      { data: BR_2019VXM, color: C_VXM, width: 1.2 },
      { data: BR_2010JL, color: C_JL, width: 1 },
      { data: BR_2015DA, color: C_DA, width: 1 },
      { data: BR_2017HCC, color: C_HCC, width: 1 },
    ],
    tags: [
      { name: 'SN 2019vxm', epoch: '+597.0d', color: C_VXM, y1: 608, y2: 619 },
      { name: 'SN 2010jl', epoch: '+533.0d', color: C_JL, y1: 670, y2: 681 },
      { name: 'SN 2015da', epoch: '+613.4d', color: C_DA, y1: 718, y2: 729 },
      { name: 'SN 2017hcc', epoch: '+666.0d', color: C_HCC, y1: 762, y2: 773 },
    ],
  },
];

const INSET_GRID = { left: 298, top: 75, width: 155, height: 110 };

const SANS = 'DejaVu Sans';
const SERIF = 'DejaVu Serif';
const LABEL_SIZE = 9.3;

const plainNumber = (v: number) => String(Math.round(v));

function markLineFor(lines: LineMark[]) {
  return {
    silent: true,
    symbol: ['none', 'none'],
    label: { show: false },
    emphasis: { disabled: true },
    animation: false,
    data: lines.map((l) => ({
      xAxis: l.w,
      lineStyle: { color: l.c, width: 1, type: l.dash ? [3, 1.6] : [1, 1.6], opacity: 1 },
    })),
  };
}

function buildOption() {
  const grid: any[] = [];
  const xAxis: any[] = [];
  const yAxis: any[] = [];
  const series: any[] = [];

  PANELS.forEach((p, g) => {
    grid.push({ ...p.grid, show: true, borderColor: '#000', borderWidth: 1, backgroundColor: 'transparent' });
    xAxis.push({
      type: 'value', gridIndex: g, min: WAVE_MIN, max: WAVE_MAX,
      axisLine: { show: false }, splitLine: { show: false },
      axisTick: { show: true, inside: true, length: 5, customValues: MAJOR_TICKS, lineStyle: { color: '#000', width: 1 } },
      axisLabel: { show: true, customValues: MAJOR_TICKS, formatter: plainNumber, fontSize: 13, fontFamily: SANS, color: '#000', margin: 5 },
    });
    xAxis.push({
      type: 'value', gridIndex: g, min: WAVE_MIN, max: WAVE_MAX, interval: 200,
      axisLine: { show: false }, splitLine: { show: false },
      axisTick: { show: true, inside: true, length: 2.5, lineStyle: { color: '#000', width: 0.8 } },
      axisLabel: { show: false },
    });
    yAxis.push({ type: 'value', gridIndex: g, min: 0, max: p.ymax, show: false });

    series.push({
      type: 'line', xAxisIndex: 2 * g, yAxisIndex: g, data: [[WAVE_MIN, 0]],
      symbol: 'none', silent: true, z: 1, lineStyle: { opacity: 0 },
      markLine: markLineFor(p.lines),
    });
    p.spectra.forEach((s) => {
      series.push({
        type: 'line', xAxisIndex: 2 * g, yAxisIndex: g, data: s.data,
        symbol: 'none', showSymbol: false, silent: true, z: 3, clip: true,
        lineStyle: { color: s.color, width: s.width }, itemStyle: { color: s.color },
        emphasis: { disabled: true },
      });
    });
  });

  // inset (grid 4, xAxis 8, yAxis 4)
  grid.push({ ...INSET_GRID, show: true, borderColor: '#000', borderWidth: 1, backgroundColor: '#ffffff', z: 4 });
  xAxis.push({
    type: 'value', gridIndex: 4, min: INSET_MIN, max: INSET_MAX,
    axisLine: { show: false }, splitLine: { show: false },
    axisTick: { show: true, inside: true, length: 3, customValues: INSET_TICKS, lineStyle: { color: '#000' } },
    axisLabel: { show: true, customValues: INSET_TICKS, formatter: plainNumber, fontSize: 8, fontFamily: SANS, color: '#000', margin: 3 },
    z: 5,
  });
  yAxis.push({ type: 'value', gridIndex: 4, min: 0, max: 100, show: false });
  series.push({
    type: 'line', xAxisIndex: 8, yAxisIndex: 4, data: [[INSET_MIN, 0]],
    symbol: 'none', silent: true, z: 5, lineStyle: { opacity: 0 },
    markLine: markLineFor(INSET_LINES),
  });
  [
    { data: INSET_2019VXM, color: C_VXM },
    { data: INSET_1998S, color: C_98S },
  ].forEach((s) => {
    series.push({
      type: 'line', xAxisIndex: 8, yAxisIndex: 4, data: s.data,
      symbol: 'none', showSymbol: false, silent: true, z: 6,
      lineStyle: { color: s.color, width: 1.2 }, emphasis: { disabled: true },
    });
  });

  return { animation: false, backgroundColor: '#ffffff', grid, xAxis, yAxis, series };
}

function lineLabelText(t: string, size: number): { text: string; rich: any } {
  const rich = {
    r: { fontFamily: SERIF, fontSize: size, fill: '#000' },
    b: { fontFamily: SERIF, fontSize: size, fontWeight: 'bold', fill: '#000' },
    g: { fontFamily: SERIF, fontSize: size, fontStyle: 'italic', fill: '#000' },
    s: { fontFamily: SANS, fontSize: 9.5, fill: '#000' },
    sub: { fontFamily: SANS, fontSize: 6, fill: '#000', verticalAlign: 'bottom' },
  };
  if (t === 'CaNIR') return { text: '{s|Ca }{sub|II}{s| NIR}', rich };
  if (t === 'OI') return { text: '{s|O }{sub|I}', rich };
  if (/^H[αβγδ]$/.test(t)) return { text: `{r|H}{g|${t[1]}}`, rich };
  return { text: `{r|${t}}`, rich };
}

function rotatedLabel(x: number, y: number, t: string, bold?: boolean, size: number = LABEL_SIZE) {
  const { text, rich } = lineLabelText(t, size);
  const txt = bold ? text.replace('{r|', '{b|') : text;
  return {
    type: 'text', x, y, rotation: Math.PI / 2, silent: true, z: 20,
    style: { text: txt, rich, textAlign: 'right', textVerticalAlign: 'middle', fill: '#000' },
  };
}

function buildGraphics(chart: any) {
  const els: any[] = [];

  // title
  els.push({
    type: 'text', x: 468, y: 14, silent: true,
    style: {
      text: '{i|A&A proofs:}{r| manuscript no. main}',
      textAlign: 'center', textVerticalAlign: 'middle',
      rich: {
        i: { fontFamily: 'Liberation Serif', fontStyle: 'italic', fontSize: 18, fill: '#000' },
        r: { fontFamily: 'Liberation Serif', fontSize: 18, fill: '#000' },
      },
    },
  });

  // axis titles
  els.push({
    type: 'text', x: 14, y: 426, rotation: Math.PI / 2, silent: true,
    style: { text: 'Normalised Flux Density + Const.', fontFamily: SANS, fontSize: 19, fill: '#000', textAlign: 'center', textVerticalAlign: 'middle' },
  });
  els.push({
    type: 'text', x: 409, y: 830, silent: true,
    style: { text: 'Rest Wavelength [Å]', fontFamily: SANS, fontSize: 18, fill: '#000', textAlign: 'left', textVerticalAlign: 'middle' },
  });

  PANELS.forEach((p, g) => {
    const top = p.grid.top;
    p.lines.forEach((l) => {
      if (l.noLabel) return;
      const px = chart.convertToPixel({ xAxisIndex: 2 * g }, l.w);
      els.push(rotatedLabel(px + l.dx, top + 4, l.t, l.bold));
    });
    if (g === 0) {
      const px = chart.convertToPixel({ xAxisIndex: 0 }, TL_EXTRA_LABEL.w);
      els.push(rotatedLabel(px + TL_EXTRA_LABEL.dx, top + TL_EXTRA_LABEL.dy, TL_EXTRA_LABEL.t));
    }
    p.tags.forEach((tag) => {
      els.push({
        type: 'text', x: p.tagX, y: tag.y1, silent: true,
        style: { text: tag.name, fontFamily: SANS, fontSize: 10.5, fill: tag.color, textAlign: 'left', textVerticalAlign: 'middle' },
      });
      els.push({
        type: 'text', x: p.tagX, y: tag.y2, silent: true,
        style: { text: tag.epoch, fontFamily: SANS, fontSize: 10.5, fill: tag.color, textAlign: 'left', textVerticalAlign: 'middle' },
      });
    });
  });

  // inset labels
  INSET_LINES.forEach((l, i) => {
    const px = chart.convertToPixel({ xAxisIndex: 8 }, l.w);
    els.push(rotatedLabel(px + l.dx, INSET_LABEL_TOP[i], l.t, false, 7.8));
  });

  // model annotation
  els.push({
    type: 'text', x: 293, y: 208, silent: true, z: 20,
    style: {
      text: '{a|Model @ }{m|Ṁ}{a| = 0.01 M}{sb|⊙}{a| yr}{sp|−1}',
      textAlign: 'left', textVerticalAlign: 'middle',
      rich: {
        a: { fontFamily: SANS, fontSize: 13.6, fill: C_MODEL, lineHeight: 20 },
        m: { fontFamily: SANS, fontSize: 13.6, fontStyle: 'italic', fill: C_MODEL, lineHeight: 20 },
        sb: { fontFamily: SANS, fontSize: 8.5, fill: C_MODEL, verticalAlign: 'bottom', lineHeight: 20 },
        sp: { fontFamily: SANS, fontSize: 9.5, fill: C_MODEL, verticalAlign: 'top', lineHeight: 20 },
      },
    },
  });

  return els;
}

export default function App() {
  const ref = useRef<HTMLDivElement>(null);
  useEffect(() => {
    if (!ref.current) return;
    const chart = echarts.init(ref.current, null, { renderer: 'svg' });
    chart.setOption(buildOption() as any);
    chart.setOption({ graphic: buildGraphics(chart) } as any);
    return () => chart.dispose();
  }, []);
  return (
    <div
      ref={ref}
      style={{ position: 'absolute', left: 0, top: 0, width: 933, height: 847, background: '#fff' }}
    />
  );
}
